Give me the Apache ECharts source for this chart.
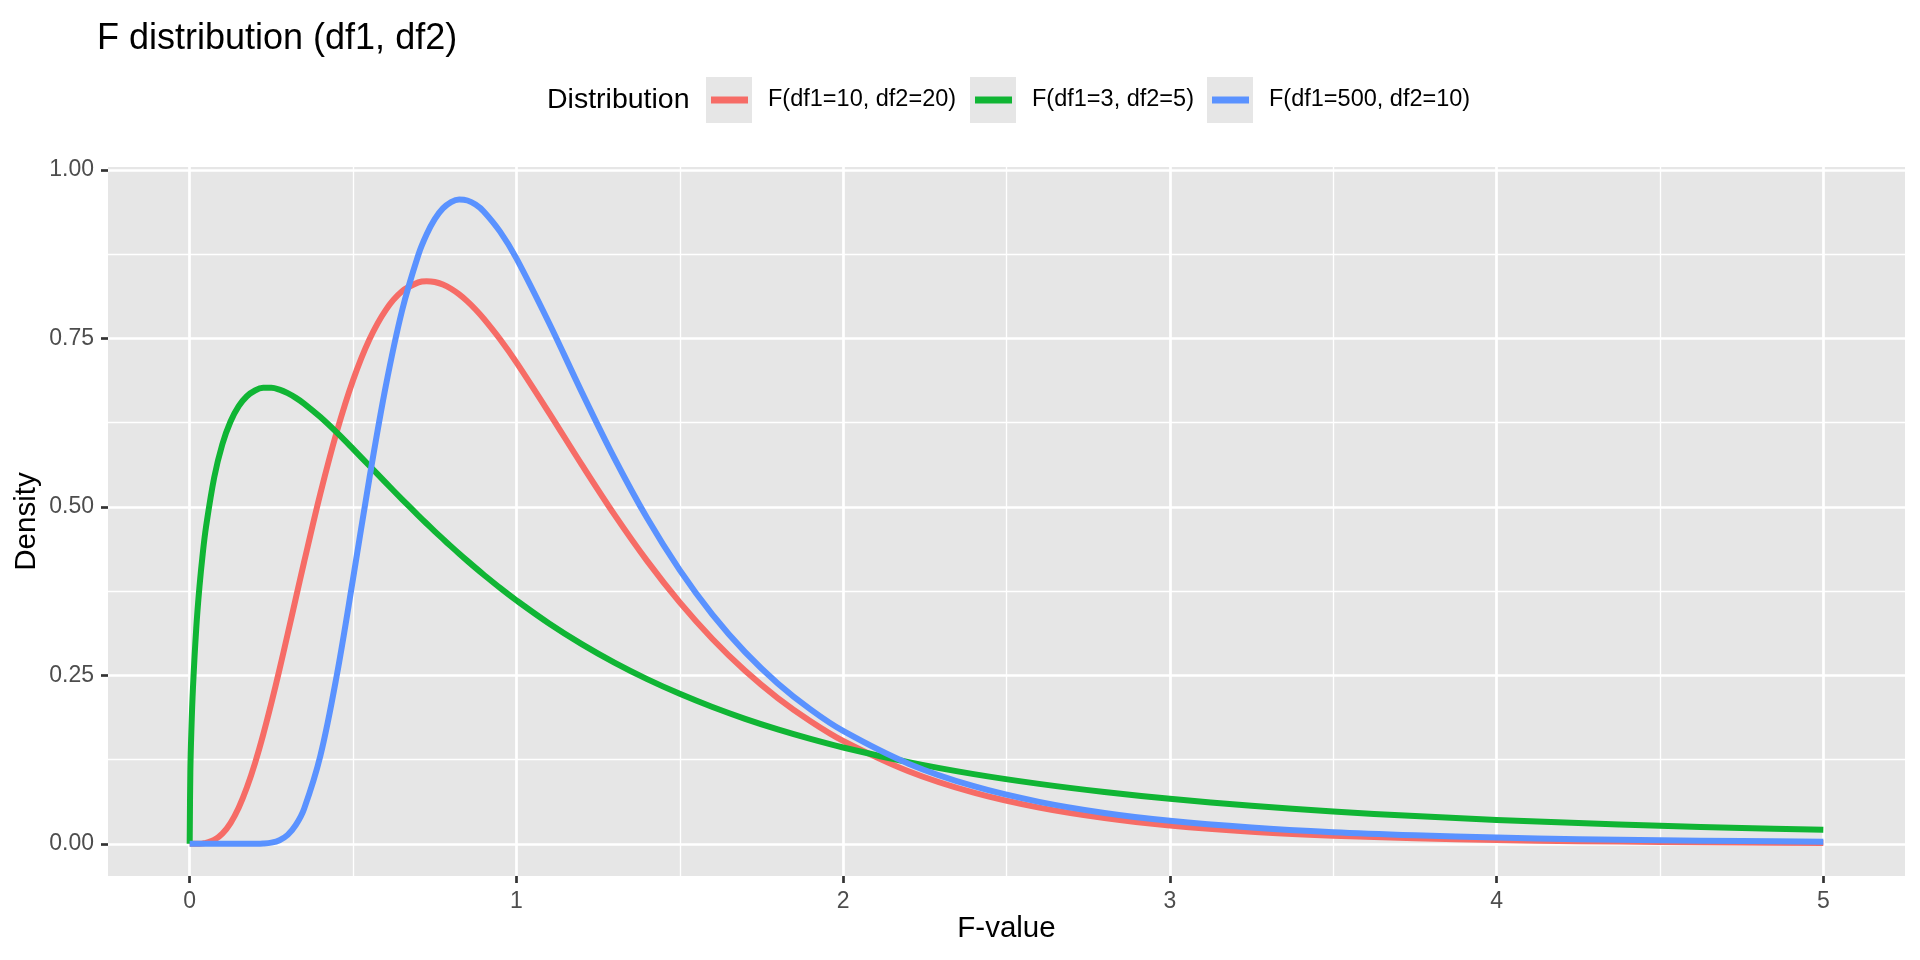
<!DOCTYPE html>
<html>
<head>
<meta charset="utf-8">
<script src="https://cdn.jsdelivr.net/npm/echarts@6/dist/echarts.min.js"></script>
<style>
html, body { margin: 0; padding: 0; background: #ffffff; }
#chart { width: 1920px; height: 960px; }
</style>
</head>
<body>
<div id="chart"></div>
<script>
// ---- data ----
const fValues = [0, 0.002, 0.005, 0.01, 0.02, 0.03, 0.04, 0.05,
  0.075, 0.1, 0.125, 0.15, 0.175, 0.2, 0.225,
  0.25, 0.275, 0.3, 0.325, 0.35,
  0.4, 0.45, 0.5, 0.55, 0.6, 0.65,
  0.7, 0.725, 0.75, 0.775, 0.8, 0.825, 0.85, 0.875, 0.9,
  0.95, 1.0,
  1.1, 1.2, 1.3, 1.4, 1.5, 1.6, 1.7, 1.8, 1.9, 2.0,
  2.2, 2.4, 2.6, 2.8, 3.0,
  3.25, 3.5, 3.75, 4.0, 4.25, 4.5, 4.75, 5.0];

const densityF10_20 = [0, 0, 0, 0.000003, 0.00004, 0.0002, 0.0006, 0.00135,
  0.0057, 0.01505, 0.0308, 0.0535, 0.0834, 0.1198, 0.1620,
  0.2088, 0.2590, 0.3114, 0.3647, 0.4178,
  0.5198, 0.6111, 0.6879, 0.7483, 0.7920, 0.8198,
  0.8331, 0.8348, 0.8337, 0.8298, 0.8236, 0.8152, 0.8049, 0.7929, 0.7793,
  0.7487, 0.7144,
  0.6395, 0.5626, 0.4884, 0.4198, 0.3582, 0.3039, 0.2567, 0.2163, 0.1819, 0.1527,
  0.1076, 0.0758, 0.0536, 0.0381, 0.0272,
  0.0180, 0.0121, 0.0082, 0.0056, 0.0039, 0.0027, 0.0019, 0.0013];

const densityF3_5 = [0, 0.1054, 0.1654, 0.2311, 0.3192, 0.3817, 0.4306, 0.4703,
  0.5436, 0.5929, 0.6266, 0.6494, 0.6641, 0.6727, 0.6766,
  0.6767, 0.6739, 0.6687, 0.6617, 0.6533,
  0.6332, 0.6104, 0.5860, 0.5610, 0.5359, 0.5112,
  0.4871, 0.4753, 0.4637, 0.4524, 0.4413, 0.4304, 0.4198, 0.4094, 0.3993,
  0.3797, 0.3612,
  0.3269, 0.2962, 0.2688, 0.2443, 0.2225, 0.2029, 0.1854, 0.1697, 0.1556, 0.1429,
  0.1212, 0.1034, 0.0889, 0.0768, 0.0667,
  0.0563, 0.0480, 0.0411, 0.0354, 0.0307, 0.0268, 0.0235, 0.0207];

const densityF500_10 = [0, 0, 0, 0, 0, 0, 0, 0,
  0, 0, 0, 0.0000002, 0.000005, 0.00006, 0.0004,
  0.0017, 0.0053, 0.0132, 0.0280, 0.0517,
  0.1307, 0.2494, 0.3932, 0.5422, 0.6787, 0.7912,
  0.8741, 0.9041, 0.9269, 0.9428, 0.9523, 0.9561, 0.9546, 0.9485, 0.9384,
  0.9084, 0.8687,
  0.7728, 0.6703, 0.5721, 0.4833, 0.4060, 0.3400, 0.2844, 0.2380, 0.1994, 0.1674,
  0.1189, 0.0854, 0.0622, 0.0458, 0.0341,
  0.0241, 0.0172, 0.0126, 0.0093, 0.0069, 0.0053, 0.0040, 0.0031];

const seriesNames = ['F(df1=10, df2=20)', 'F(df1=3, df2=5)', 'F(df1=500, df2=10)'];
const xMajorTicks = [0, 1, 2, 3, 4, 5];
const xMinorTicks = [0.5, 1.5, 2.5, 3.5, 4.5];
const yMajorTicks = [0, 0.25, 0.5, 0.75, 1];
const yMinorTicks = [0.125, 0.375, 0.625, 0.875];

// ---- styling ----
const FONT = '"Liberation Sans", Arial, Helvetica, sans-serif';
const lineColors = ['#F66C66', '#10B534', '#5A92FF'];
const panelFill = '#E6E6E6';
const X_MIN = -0.25, X_MAX = 5.25;
const Y_MIN = -0.0478, Y_MAX = 1.0043;
const legendIconLeft = [711, 975, 1212];
const legendBoxLeft = [706, 970, 1207];

const allDensities = [densityF10_20, densityF3_5, densityF500_10];
function pairs(ys) { return fValues.map((x, i) => [x, ys[i]]); }

const chart = echarts.init(document.getElementById('chart'), null, { renderer: 'canvas' });

const tickStyle = { color: '#333333', width: 2.7 };
const labelStyle = { fontSize: 23, color: '#4D4D4D', fontFamily: FONT };

const option = {
  animation: false,
  backgroundColor: '#ffffff',
  textStyle: { fontFamily: FONT },
  title: [
    {
      text: 'F distribution (df1, df2)', left: 97, top: 21, padding: 0,
      textStyle: { fontSize: 36, fontWeight: 'normal', color: '#000000', fontFamily: FONT }
    },
    {
      text: 'Distribution', left: 547, top: 86, padding: 0,
      textStyle: { fontSize: 28.5, fontWeight: 'normal', color: '#000000', fontFamily: FONT, lineHeight: 28 }
    }
  ],
  legend: seriesNames.map((name, i) => ({
    data: [name],
    left: legendIconLeft[i], top: 86, padding: 0,
    orient: 'horizontal',
    icon: 'rect', itemWidth: 37, itemHeight: 7,
    selectedMode: false,
    textStyle: { fontSize: 23.5, color: '#000000', fontFamily: FONT, lineHeight: 28, padding: [0, 0, 0, 15] }
  })),
  graphic: {
    elements: legendBoxLeft.map(x => ({
      type: 'rect', left: x, top: 77, z: 0, silent: true,
      shape: { width: 46, height: 46 }, style: { fill: panelFill }
    }))
  },
  grid: {
    left: 108, right: 15, top: 167, bottom: 84,
    show: true, backgroundColor: panelFill, borderWidth: 0
  },
  xAxis: [
    {
      type: 'value', min: X_MIN, max: X_MAX,
      name: 'F-value', nameLocation: 'middle', nameGap: 38, nameMoveOverlap: false,
      nameTextStyle: { fontSize: 29.5, color: '#000000', fontFamily: FONT },
      axisLine: { show: false, onZero: false },
      axisTick: { show: true, length: 7, lineStyle: tickStyle, customValues: xMajorTicks },
      axisLabel: Object.assign({ margin: 14, customValues: xMajorTicks, formatter: v => String(v) }, labelStyle),
      splitLine: { show: true, lineStyle: { color: '#ffffff', width: 2.7 } },
      z: 2
    },
    {
      type: 'value', min: X_MIN, max: X_MAX, show: true,
      axisLine: { show: false, onZero: false },
      axisTick: { show: false, customValues: xMinorTicks },
      axisLabel: { show: false, customValues: xMinorTicks },
      splitLine: { show: true, lineStyle: { color: '#ffffff', width: 1.35 } },
      z: 1
    }
  ],
  yAxis: [
    {
      type: 'value', min: Y_MIN, max: Y_MAX,
      name: 'Density', nameLocation: 'middle', nameGap: 66, nameMoveOverlap: false,
      nameTextStyle: { fontSize: 29.5, color: '#000000', fontFamily: FONT },
      axisLine: { show: false, onZero: false },
      axisTick: { show: true, length: 7, lineStyle: tickStyle, customValues: yMajorTicks },
      axisLabel: Object.assign({ margin: 14, customValues: yMajorTicks, formatter: v => Number(v).toFixed(2) }, labelStyle),
      splitLine: { show: true, lineStyle: { color: '#ffffff', width: 2.7 } },
      z: 2
    },
    {
      type: 'value', min: Y_MIN, max: Y_MAX, show: true,
      axisLine: { show: false, onZero: false },
      axisTick: { show: false, customValues: yMinorTicks },
      axisLabel: { show: false, customValues: yMinorTicks },
      splitLine: { show: true, lineStyle: { color: '#ffffff', width: 1.35 } },
      z: 1
    }
  ],
  series: allDensities.map((d, i) => ({
    name: seriesNames[i],
    type: 'line',
    xAxisIndex: 0, yAxisIndex: 0,
    data: pairs(d),
    symbol: 'none', showSymbol: false,
    smooth: 0.35,
    lineStyle: { width: 6, color: lineColors[i], cap: 'butt', join: 'round' },
    itemStyle: { color: lineColors[i] },
    emphasis: { disabled: true },
    z: 3 + i
  }))
};

chart.setOption(option);
</script>
</body>
</html>
